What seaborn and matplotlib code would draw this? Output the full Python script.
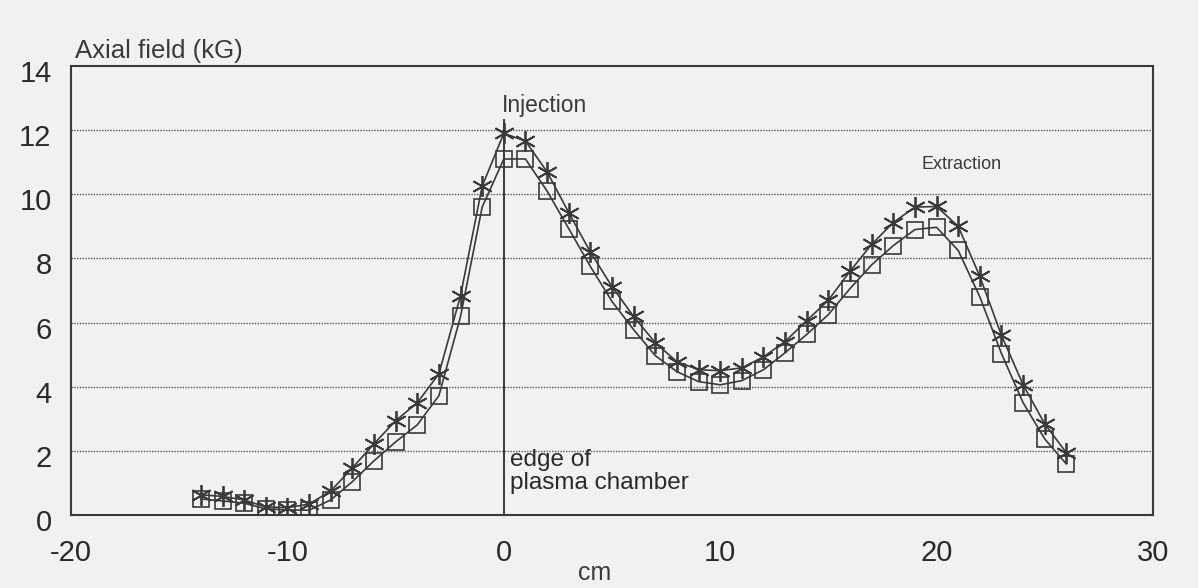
import numpy as np
import pandas as pd
import matplotlib
matplotlib.use("Agg")
import matplotlib.pyplot as plt
import matplotlib.transforms as mtransforms
import seaborn as sns

# Axial position along the source (cm)
position_cm = list(range(-14, 27))

# Axial magnetic field, upper curve (asterisks), kG
field_star = [0.63, 0.58, 0.47, 0.25, 0.23, 0.34, 0.75, 1.47, 2.22, 2.94,
              3.50, 4.40, 6.84, 10.25, 11.90, 11.66, 10.70, 9.43, 8.20, 7.12,
              6.19, 5.37, 4.78, 4.53, 4.50, 4.59, 4.93, 5.41, 6.06, 6.70,
              7.60, 8.44, 9.12, 9.60, 9.62, 9.00, 7.44, 5.60, 4.06, 2.84,
              1.94]

# Axial magnetic field, lower curve (open squares), kG
field_square = [0.50, 0.44, 0.37, 0.19, 0.16, 0.15, 0.47, 1.04, 1.69, 2.28,
                2.81, 3.72, 6.19, 9.60, 11.10, 11.10, 10.10, 8.93, 7.75, 6.66,
                5.78, 4.97, 4.47, 4.16, 4.06, 4.19, 4.53, 5.06, 5.63, 6.25,
                7.06, 7.80, 8.40, 8.90, 8.97, 8.25, 6.80, 5.03, 3.50, 2.37,
                1.59]

x_ticks = [-20, -10, 0, 10, 20, 30]
y_ticks = [0, 2, 4, 6, 8, 10, 12, 14]

paper = "#f1f1f1"
ink = "#3a3a3a"

sns.set_style("white")
plt.rcParams["font.family"] = ["Liberation Sans", "DejaVu Sans"]

fig = plt.figure(figsize=(11.98, 5.88), dpi=100, facecolor=paper)
ax = fig.add_axes([0.0593, 0.1241, 0.9031, 0.7637])
ax.set_facecolor(paper)

df = pd.DataFrame({"cm": position_cm, "star": field_star, "square": field_square})

sns.lineplot(data=df, x="cm", y="star", ax=ax, color=ink, linewidth=1.2,
             marker=(6, 2, 0), markersize=15, markeredgewidth=1.3,
             markeredgecolor=ink, markerfacecolor="none")
sns.lineplot(data=df, x="cm", y="square", ax=ax, color=ink, linewidth=1.2,
             marker="s", markersize=11, markeredgewidth=1.2,
             markeredgecolor=ink, markerfacecolor="none")

# dotted horizontal grid
for yv in y_ticks[1:-1]:
    ax.axhline(yv, color="#555555", linewidth=1.0, linestyle=(0, (1, 1)), zorder=0)

# plasma chamber edge
ax.vlines(0, 0, 12.35, color=ink, linewidth=1.4)

ax.set_xlim(-20, 30)
ax.set_ylim(0, 14)
ax.set_xticks(x_ticks)
ax.set_yticks(y_ticks)
ax.set_xticklabels([str(v) for v in x_ticks])
ax.set_yticklabels([str(v) for v in y_ticks])
ax.tick_params(axis="both", direction="in", length=9, width=1.3, color=ink,
               labelsize=21, labelcolor="#2a2a2a")
ax.tick_params(axis="x", pad=17)
ax.tick_params(axis="y", pad=14)
offset = mtransforms.ScaledTranslation(0, -5 / 100, fig.dpi_scale_trans)
for lab in ax.get_yticklabels():
    lab.set_transform(lab.get_transform() + offset)

for side in ["left", "right", "top", "bottom"]:
    ax.spines[side].set_visible(True)
    ax.spines[side].set_color(ink)
    ax.spines[side].set_linewidth(1.5)

ax.set_xlabel("")
ax.set_ylabel("")

ax.text(-0.1, 12.55, "Injection", fontsize=16.5, color=ink, ha="left", va="baseline")
ax.text(19.3, 10.8, "Extraction", fontsize=13, color=ink, ha="left", va="baseline")
ax.text(0.3, 1.35, "edge of\nplasma chamber", fontsize=17.5, color="#2a2a2a",
        ha="left", va="center", linespacing=1.05)

fig.text(0.0626, 0.913, "Axial field (kG)", fontsize=18.5, color=ink,
         ha="left", va="center")
fig.text(0.496, 0.025, "cm", fontsize=18, color=ink, ha="center", va="center")

fig.savefig("out.png", dpi=100, facecolor=paper)
